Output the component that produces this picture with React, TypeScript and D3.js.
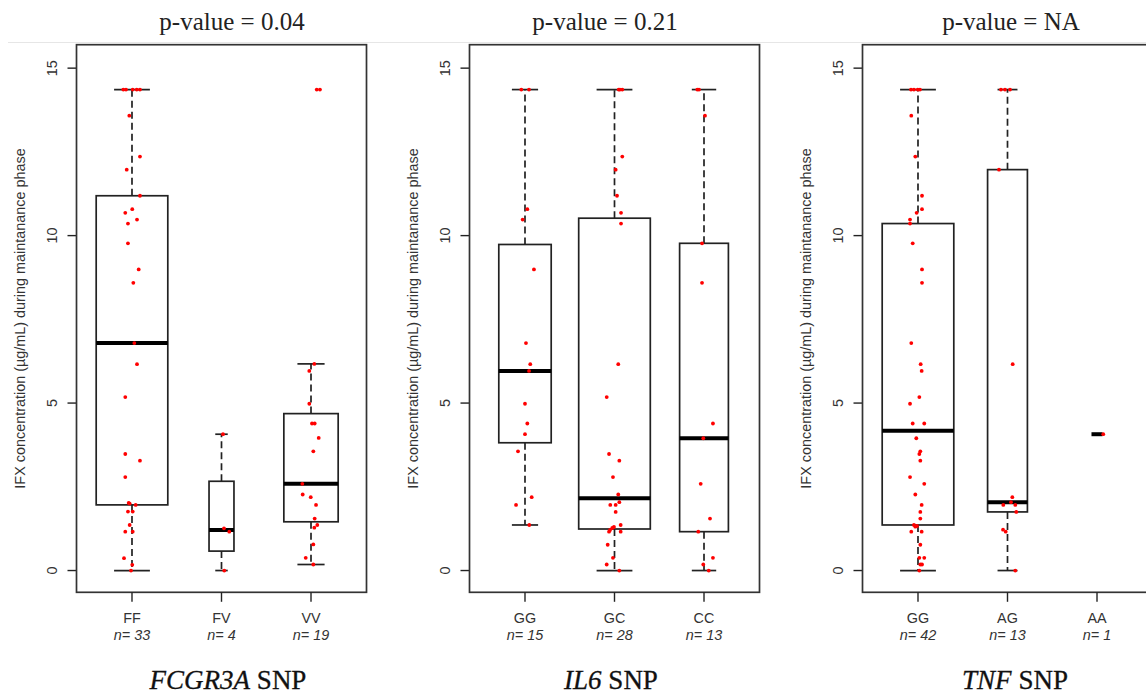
import React from "react";
import * as d3 from "d3";

// IFX trough concentrations (µg/mL) per genotype, with the stripchart jitter (category units)
const fcgrCategories = ["FF", "FV", "VV"];
const fcgrFF = [14.36, 14.36, 14.36, 14.36, 14.36, 13.58, 12.36, 11.97, 11.19, 10.79, 10.68, 10.48, 10.36, 9.77, 8.99, 8.59, 6.79, 6.16, 5.18, 3.48, 3.28, 2.79, 2.02, 2.0, 1.96, 1.76, 1.76, 1.36, 1.16, 1.16, 0.37, 0.17, 0];
const fcgrFFJitter = [-0.097, -0.067, 0.008, 0.053, 0.089, -0.03, 0.089, -0.059, 0.089, 0.003, -0.075, 0.056, -0.045, -0.045, 0.075, 0.015, 0.026, 0.056, -0.075, -0.075, 0.089, -0.075, -0.037, -0.026, 0.041, -0.045, 0.008, -0.026, -0.075, 0.008, -0.089, 0.003, -0.011];
const fcgrFV = [4.07, 1.26, 1.16, 0];
const fcgrFVJitter = [0.017, 0.028, 0.087, 0.031];
const fcgrVV = [14.36, 14.36, 6.17, 5.96, 4.98, 4.39, 4.39, 3.96, 3.56, 2.59, 2.27, 2.19, 1.96, 1.55, 1.36, 1.28, 0.78, 0.38, 0.18];
const fcgrVVJitter = [0.064, 0.1, 0.037, -0.019, -0.019, 0.011, 0.041, 0.086, 0.026, -0.097, -0.093, -0.003, 0.056, 0.041, 0.07, 0.037, 0.026, -0.059, 0.026];

const il6Categories = ["GG", "GC", "CC"];
const il6GG = [14.36, 14.36, 10.79, 10.48, 8.99, 6.79, 6.16, 5.96, 4.98, 4.39, 4.07, 3.56, 2.19, 1.96, 1.36];
const il6GGJitter = [-0.041, 0.045, 0.026, -0.026, 0.1, 0.011, 0.059, 0.045, 0, 0.026, 0, -0.078, 0.075, -0.1, 0.048];
const il6GC = [14.36, 14.36, 14.36, 12.36, 11.97, 11.19, 10.68, 10.36, 6.16, 5.18, 3.48, 3.28, 2.79, 2.27, 2.04, 1.96, 1.96, 1.75, 1.36, 1.3, 1.27, 1.21, 1.16, 1.16, 0.77, 0.38, 0.18, 0];
const il6GCJitter = [0.047, 0.087, 0.061, 0.087, 0.013, 0.028, 0.073, 0.073, 0.042, -0.087, -0.061, 0.054, -0.017, 0.042, 0.054, -0.047, 0.013, 0.013, 0.069, -0.006, -0.025, -0.05, -0.061, 0.069, -0.076, -0.017, -0.087, 0.054];
const il6CC = [14.36, 14.36, 13.58, 9.77, 8.59, 4.39, 3.95, 2.59, 1.55, 1.16, 0.38, 0.18, 0];
const il6CCJitter = [-0.075, -0.056, 0.011, -0.022, -0.022, 0.1, -0.008, -0.037, 0.067, -0.064, 0.1, -0.008, 0.053];

const tnfCategories = ["GG", "AG", "AA"];
const tnfGG = [14.36, 14.36, 14.36, 14.36, 13.58, 12.36, 11.19, 10.79, 10.68, 10.48, 10.36, 9.77, 8.99, 8.59, 6.79, 6.16, 5.96, 5.18, 4.98, 4.39, 4.39, 3.95, 3.56, 3.48, 3.28, 2.79, 2.59, 2.27, 1.96, 1.75, 1.55, 1.36, 1.33, 1.31, 1.16, 1.16, 0.77, 0.38, 0.38, 0.18, 0.18, 0];
const tnfGGJitter = [-0.078, -0.045, -0.003, 0.022, -0.075, -0.03, 0.045, 0.045, -0.015, -0.089, -0.089, -0.059, 0.045, 0.045, -0.075, 0.03, 0.041, 0.015, -0.089, -0.059, 0.07, -0.019, 0.026, 0.015, 0.026, -0.089, 0.07, -0.03, 0.041, 0.026, 0.026, -0.045, -0.011, -0.03, -0.075, 0.041, 0.026, 0.015, 0.07, 0.026, 0.045, 0.015];
const tnfAG = [14.36, 14.36, 14.36, 11.97, 6.16, 2.19, 2.04, 1.96, 1.96, 1.75, 1.22, 1.16, 0];
const tnfAGJitter = [-0.073, -0.028, 0.028, -0.095, 0.058, 0.054, 0.039, -0.047, 0.087, 0.098, -0.05, -0.02, 0.087];
const tnfAA = [4.07];
const tnfAAJitter = [0.07];

const geneNames = ["FCGR3A", "IL6", "TNF"];
const pValues = ["0.04", "0.21", "NA"];
const yTicks = [0, 5, 10, 15];
const yTitle = "IFX concentration (µg/mL) during maintanance phase";

const panels = [
  { gene: geneNames[0], p: pValues[0], categories: fcgrCategories, groups: [fcgrFF, fcgrFV, fcgrVV], jitter: [fcgrFFJitter, fcgrFVJitter, fcgrVVJitter] },
  { gene: geneNames[1], p: pValues[1], categories: il6Categories, groups: [il6GG, il6GC, il6CC], jitter: [il6GGJitter, il6GCJitter, il6CCJitter] },
  { gene: geneNames[2], p: pValues[2], categories: tnfCategories, groups: [tnfGG, tnfAG, tnfAA], jitter: [tnfGGJitter, tnfAGJitter, tnfAAJitter] },
];

// Layout
const W = 1146;
const H = 695;
const frameTop = 44.7;
const frameBottom = 592.3;
const frameW = 290;
const panelLefts = [76.5, 469.5, 862.5];
const pTitleX = [232, 605, 1011];
const geneTitleX = [228, 611, 1015];
const sans = "'Liberation Sans', Arial, Helvetica, sans-serif";
const serif = "'Liberation Serif', 'Times New Roman', serif";
const ink = "#222";

// Tukey hinges as in R's fivenum / boxplot.stats
function boxStats(values: number[]) {
  const s = [...values].sort((a, b) => a - b);
  const n = s.length;
  const n4 = Math.floor((n + 3) / 2) / 2;
  const d = [1, n4, (n + 1) / 2, n + 1 - n4, n];
  const f = d.map((k) => 0.5 * (s[Math.floor(k) - 1] + s[Math.ceil(k) - 1]));
  const iqr = f[3] - f[1];
  const hiFence = f[3] + 1.5 * iqr;
  const loFence = f[1] - 1.5 * iqr;
  const upper = d3.max(s.filter((v) => v <= hiFence)) as number;
  const lower = d3.min(s.filter((v) => v >= loFence)) as number;
  return { lower, q1: f[1], median: f[2], q3: f[3], upper };
}

const y = d3.scaleLinear().domain([-0.65, 15.7]).range([frameBottom, frameTop]);

function Panel({ panel, left, pX, gX }: { panel: (typeof panels)[number]; left: number; pX: number; gX: number }) {
  const x = d3.scaleLinear().domain([0.38, 3.62]).range([left, left + frameW]);
  const unit = x(1) - x(0);
  const maxSqrt = d3.max(panel.groups, (g) => Math.sqrt(g.length)) as number;
  const tickLabelX = left - 19.5;
  const titleX = left - 51.5;
  const yMid = (frameTop + frameBottom) / 2;

  return (
    <g>
      <text x={pX} y={30} textAnchor="middle" fontFamily={serif} fontSize={25} fill={ink}>
        {`p-value = ${panel.p}`}
      </text>

      {/* y axis */}
      {yTicks.map((t) => (
        <g key={t}>
          <line x1={left - 9} x2={left} y1={y(t)} y2={y(t)} stroke={ink} strokeWidth={1.4} />
          <text
            transform={`translate(${tickLabelX},${y(t)}) rotate(-90)`}
            textAnchor="middle"
            fontFamily={sans}
            fontSize={14.4}
            fill="#333"
          >
            {t}
          </text>
        </g>
      ))}
      <text
        transform={`translate(${titleX},${yMid}) rotate(-90)`}
        textAnchor="middle"
        fontFamily={sans}
        fontSize={14.4}
        fill="#333"
      >
        {yTitle}
      </text>

      {/* boxes */}
      {panel.groups.map((vals, i) => {
        const pos = i + 1;
        const cx = x(pos);
        const hw = (0.4 * Math.sqrt(vals.length)) / maxSqrt * unit;
        const st = boxStats(vals);
        return (
          <g key={i}>
            <line x1={cx} x2={cx} y1={y(st.q3)} y2={y(st.upper)} stroke={ink} strokeWidth={1.7} strokeDasharray="7,4" />
            <line x1={cx} x2={cx} y1={y(st.q1)} y2={y(st.lower)} stroke={ink} strokeWidth={1.7} strokeDasharray="7,4" />
            <line x1={cx - hw / 2} x2={cx + hw / 2} y1={y(st.upper)} y2={y(st.upper)} stroke={ink} strokeWidth={1.7} />
            <line x1={cx - hw / 2} x2={cx + hw / 2} y1={y(st.lower)} y2={y(st.lower)} stroke={ink} strokeWidth={1.7} />
            <rect x={cx - hw} y={y(st.q3)} width={2 * hw} height={y(st.q1) - y(st.q3)} fill="none" stroke={ink} strokeWidth={1.7} />
            <line x1={cx - hw} x2={cx + hw} y1={y(st.median)} y2={y(st.median)} stroke="#000" strokeWidth={4} />
          </g>
        );
      })}

      {/* jittered observations */}
      {panel.groups.map((vals, i) =>
        vals.map((v, j) => (
          <circle key={`${i}-${j}`} cx={x(i + 1 + panel.jitter[i][j])} cy={y(v)} r={1.9} fill="#ff0000" />
        ))
      )}

      {/* frame */}
      <rect x={left} y={frameTop} width={frameW} height={frameBottom - frameTop} fill="none" stroke="#333" strokeWidth={1.7} />

      {/* x axis */}
      {panel.categories.map((c, i) => (
        <g key={c}>
          <line x1={x(i + 1)} x2={x(i + 1)} y1={frameBottom} y2={frameBottom + 9.5} stroke={ink} strokeWidth={1.4} />
          <text x={x(i + 1)} y={623.3} textAnchor="middle" fontFamily={sans} fontSize={14.4} fill="#333">
            {c}
          </text>
          <text x={x(i + 1)} y={639.5} textAnchor="middle" fontFamily={sans} fontSize={14.4} fontStyle="italic" fill="#333">
            {`n= ${panel.groups[i].length}`}
          </text>
        </g>
      ))}

      <text x={gX} y={689} textAnchor="middle" fontFamily={serif} fontSize={27} fill="#111" stroke="#111" strokeWidth={0.3}>
        <tspan fontStyle="italic">{panel.gene}</tspan>
        <tspan> SNP</tspan>
      </text>
    </g>
  );
}

export default function App() {
  return (
    <svg
      width={W}
      height={H}
      viewBox={`0 0 ${W} ${H}`}
      style={{ position: "absolute", left: 0, top: 0, background: "#fff" }}
    >
      <rect x={0} y={0} width={W} height={H} fill="#fff" />
      <line x1={8} x2={W} y1={42.5} y2={42.5} stroke="#e6e6e6" strokeWidth={1} />
      {panels.map((p, k) => (
        <Panel key={p.gene} panel={p} left={panelLefts[k]} pX={pTitleX[k]} gX={geneTitleX[k]} />
      ))}
    </svg>
  );
}
